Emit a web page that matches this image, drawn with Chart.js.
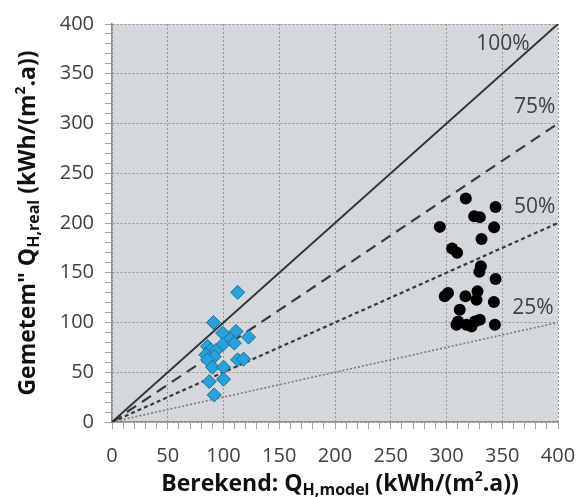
<!DOCTYPE html>
<html>
<head>
<meta charset="utf-8">
<script src="https://cdn.jsdelivr.net/npm/chart.js@4.4.1/dist/chart.umd.min.js"></script>
<style>
  html, body { margin: 0; padding: 0; background: #fff; }
  #wrap { width: 579px; height: 497px; }
</style>
</head>
<body>
<div id="wrap"><canvas id="chart" width="579" height="497"></canvas></div>
<script>
// Blauwe ruiten (lage verbruikers)
const blueX = [112.7, 91, 99.2, 111.2, 122.5, 106, 109.7, 99.2, 85.7, 88.7, 93.2, 84.2, 91.7, 85.7, 112.7, 118, 90.2, 100, 87.2, 100, 91.7];
const blueY = [130.3, 100, 89.4, 91, 85.3, 83.3, 79.3, 77.6, 75.9, 72.5, 71.8, 67.5, 65.8, 62.5, 62.5, 63.2, 55.1, 55.1, 40.6, 43, 27.2];

// Zwarte bollen (hoge verbruikers)
const blackX = [317.3, 344, 324.8, 329.9, 294, 342.7, 331.4, 305, 309.5, 330.8, 329.5, 344, 301.4, 298.4, 317, 327.8, 326.9, 342.5, 311.9, 310.4, 317.9, 325.4, 329.9, 343.4, 308.9, 322.4];
const blackY = [224.7, 216, 206.9, 205.9, 196.1, 195.8, 184, 174.3, 170, 156.5, 151, 143.8, 129.7, 126.3, 126.3, 131.3, 122.9, 120.6, 112.8, 101, 97.7, 101, 102.8, 97.7, 97.7, 96];

// Referentielijnen
const refShares = [1, 0.75, 0.5, 0.25];
const refLabels = ['100%', '75%', '50%', '25%'];
const refLabelX = [350.6, 379, 379, 377.6];
const refLabelY = [380, 317, 216, 115];
const refDash = [[], [11, 7], [4, 3], [2, 2]];
const refColor = ['#333333', '#3a3a3a', '#3a3a3a', '#7a7a7a'];
const refWidth = [2, 2.2, 2.2, 1.6];

const axisMin = 0;
const axisMax = 400;

const pts = (xs, ys) => xs.map((x, i) => ({ x: x, y: ys[i] }));

const datasets = [
  {
    label: 'laag',
    data: pts(blueX, blueY),
    pointStyle: 'rectRot',
    pointRadius: 7,
    backgroundColor: '#29a2dc',
    borderColor: '#1b6d99',
    borderWidth: 1,
    showLine: false
  },
  {
    label: 'hoog',
    data: pts(blackX, blackY),
    pointStyle: 'circle',
    pointRadius: 6,
    backgroundColor: '#000000',
    borderColor: '#000000',
    borderWidth: 0,
    showLine: false
  }
];
refShares.forEach((s, i) => {
  datasets.push({
    label: refLabels[i],
    data: [{ x: axisMin, y: axisMin * s }, { x: axisMax, y: axisMax * s }],
    showLine: true,
    pointRadius: 0,
    borderColor: refColor[i],
    borderWidth: refWidth[i],
    borderDash: refDash[i],
    fill: false
  });
});

const gridColor = '#959595';
const tickFont = { family: 'Open Sans', size: 20 };

// Rich text helper (sub/superscript)
function drawRich(ctx, parts, cx, cy) {
  let total = 0;
  parts.forEach(p => { ctx.font = p.font; p.w = ctx.measureText(p.t).width; total += p.w; });
  let x = cx - total / 2;
  parts.forEach(p => {
    ctx.font = p.font;
    ctx.fillText(p.t, x, cy + (p.dy || 0));
    x += p.w;
  });
}

const decor = {
  id: 'decor',
  beforeDraw(chart) {
    const { ctx, chartArea: a } = chart;
    ctx.save();
    ctx.fillStyle = '#d4d8dc';
    ctx.fillRect(a.left, a.top, a.right - a.left, a.bottom - a.top);
    ctx.restore();
  },
  afterDraw(chart) {
    const { ctx, chartArea: a, scales } = chart;
    ctx.save();
    // labels bij de lijnen
    ctx.fillStyle = '#404040';
    ctx.font = '21px "Open Sans"';
    ctx.textAlign = 'center';
    ctx.textBaseline = 'middle';
    refLabels.forEach((t, i) => {
      ctx.fillText(t, scales.x.getPixelForValue(refLabelX[i]), scales.y.getPixelForValue(refLabelY[i]));
    });

    // as-titels
    ctx.fillStyle = '#111';
    ctx.textAlign = 'left';
    ctx.textBaseline = 'alphabetic';
    const big = 'bold 23px "Open Sans"';
    const sub = 'bold 16px "Open Sans"';
    const sup = 'bold 14px "Open Sans"';
    drawRich(ctx, [
      { t: 'Berekend: Q', font: big },
      { t: 'H,model', font: sub, dy: 4 },
      { t: ' (kWh/(m', font: big },
      { t: '2', font: sup, dy: -10 },
      { t: '.a))', font: big }
    ], (a.left + a.right) / 2 + 5, 491);

    ctx.translate(35, (a.top + a.bottom) / 2);
    ctx.rotate(-Math.PI / 2);
    drawRich(ctx, [
      { t: 'Gemetem" Q', font: big },
      { t: 'H,real', font: sub, dy: 4 },
      { t: ' (kWh/(m', font: big },
      { t: '2', font: sup, dy: -10 },
      { t: '.a))', font: big }
    ], 0, 0);
    ctx.restore();
  }
};

function axis(isY) {
  return {
    type: 'linear',
    min: axisMin,
    max: axisMax,
    afterFit(scale) {
      if (isY) scale.width = 112; else scale.height = 75;
      scale.paddingLeft = 0;
      scale.paddingRight = 0;
      scale.paddingTop = 0;
      scale.paddingBottom = 0;
    },
    ticks: {
      stepSize: 10,
      autoSkip: false,
      maxRotation: 0,
      color: '#404040',
      font: tickFont,
      padding: isY ? 11 : 15,
      callback: v => (v % 50 === 0 ? v : '')
    },
    grid: {
      color: c => (c.tick && c.tick.value % 50 === 0 ? gridColor : 'rgba(0,0,0,0)'),
      lineWidth: 1,
      drawTicks: true,
      tickLength: 7,
      tickColor: '#a0a0a0',
      tickBorderDash: []
    },
    border: { display: true, color: '#8a8a8a', width: 1.5, dash: [2, 2] }
  };
}

new Chart(document.getElementById('chart'), {
  type: 'scatter',
  data: { datasets: datasets },
  options: {
    responsive: false,
    animation: false,
    layout: { padding: { top: 24, right: 21, left: 0, bottom: 0 } },
    plugins: { legend: { display: false }, tooltip: { enabled: false } },
    scales: { x: axis(false), y: axis(true) }
  },
  plugins: [decor]
});
</script>
</body>
</html>
